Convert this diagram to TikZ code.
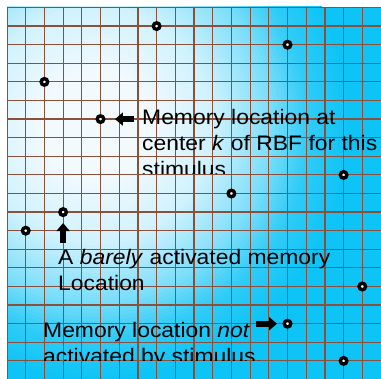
\documentclass[tikz,border=0pt]{standalone}
\usepackage{fontspec}
\setmainfont{Liberation Sans}[FakeStretch=1.09]
\usetikzlibrary{arrows.meta}
\definecolor{cyanbg}{RGB}{14,196,246}
\definecolor{bglight}{RGB}{242,250,254}
\definecolor{gridc}{RGB}{138,80,60}
\begin{document}
\begin{tikzpicture}[x=1pt,y=-1pt,
  dot/.style={circle,draw=black,line width=3.4pt,fill=white,inner sep=0pt,minimum size=6.5pt},
  blk/.style={line width=6pt,-{Triangle[length=8pt,width=13pt]}},
  lbl/.style={anchor=base west,inner sep=0pt,font=\fontsize{21}{26}\selectfont,text=black},
  gridline/.style={gridc,line width=1.2pt}]
\useasboundingbox (0,0) rectangle (381,379);
\fill[white] (0,0) rectangle (381,379);
\begin{scope}
  \clip (7,7) rectangle (381,379);
  \fill[cyanbg] (7,7) rectangle (381,379);
  \foreach \r in {256,252,...,52} {
    \pgfmathsetmacro{\t}{\r<=55 ? 0 : (\r<=120 ? 15*(\r-55)/65 : (\r<=175 ? 15+35*(\r-120)/55 : (\r<=215 ? 50+35*(\r-175)/40 : min(100,85+15*(\r-215)/40))))}
    \fill[cyanbg!\t!bglight] (95,125) circle (\r);
  }
  \foreach \k in {0,...,19} {
    \draw[gridline] ({7+18.7*\k},7) -- ({7+18.7*\k},379);
    \draw[gridline] (7,{7.5+18.6*\k}) -- (381,{7.5+18.6*\k});
  }
\end{scope}
% memory locations
\node[dot] (d1) at ({7+18.7*8},{7.5+18.6*1}) {};
\node[dot] (d2) at ({7+18.7*2},{7.5+18.6*4}) {};
\node[dot] (d3) at ({7+18.7*5},{7.5+18.6*6}) {};
\node[dot] (d4) at ({7+18.7*15},{7.5+18.6*2}) {};
\node[dot] (d5) at ({7+18.7*18},{7.5+18.6*9}) {};
\node[dot] (d6) at ({7+18.7*12},{7.5+18.6*10}) {};
\node[dot] (d7) at ({7+18.7*3},{7.5+18.6*11}) {};
\node[dot] (d8) at ({7+18.7*1},{7.5+18.6*12}) {};
\node[dot] (d9) at ({7+18.7*19},{7.5+18.6*15}) {};
\node[dot] (d10) at ({7+18.7*15},{7.5+18.6*17}) {};
\node[dot] (d11) at ({7+18.7*18},{7.5+18.6*19}) {};
% arrows
\coordinate (t3) at (134,{7.5+18.6*6});
\draw[blk,shorten >=9.5pt] (t3) -- (d3);
\coordinate (t7) at ({7+18.7*3},243);
\draw[blk,shorten >=6pt] (t7) -- (d7);
\coordinate (t10) at (256,{7.5+18.6*17});
\draw[blk,shorten >=5.5pt] (t10) -- (d10);
% labels
\node[lbl] (m1) at (142,125) {Memory location at};
\node[lbl] (m2) at (142,151) {center \textit{k} of RBF for this};
\begin{scope}
  \clip (0,0) rectangle (381,174);
  \node[lbl] (m3) at (142,177) {stimulus};
\end{scope}
\node[lbl] (b1) at (58,265) {A \textit{barely} activated memory};
\node[lbl] (b2) at (58,291) {Location};
\node[lbl] (n1) at (43,338) {Memory location \textit{not}};
\begin{scope}
  \clip (0,0) rectangle (381,361);
  \node[lbl] (n2) at (43,364) {activated by stimulus.};
\end{scope}
\end{tikzpicture}
\end{document}
